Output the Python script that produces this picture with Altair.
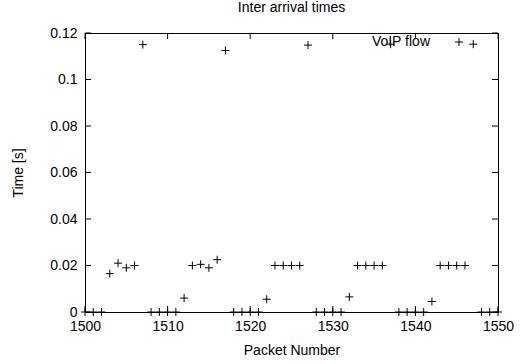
import altair as alt
import pandas as pd

# ---- data ----
packet_number = list(range(1500, 1551))
inter_arrival = [
    0.0, 0.0, 0.0, 0.0165, 0.021, 0.019, 0.020, 0.1150, 0.0, 0.0,      # 1500-1509
    0.0, 0.0, 0.006, 0.020, 0.0205, 0.019, 0.0225, 0.1125, 0.0, 0.0,   # 1510-1519
    0.0, 0.0, 0.0055, 0.020, 0.020, 0.020, 0.020, 0.1148, 0.0, 0.0,    # 1520-1529
    0.0, 0.0, 0.0065, 0.020, 0.020, 0.020, 0.020, 0.1152, 0.0, 0.0,    # 1530-1539
    0.0, 0.0, 0.0045, 0.020, 0.020, 0.020, 0.020, 0.1152, 0.0, 0.0,    # 1540-1549
    0.0,                                                               # 1550
]
series_name = ["VoIP flow"]
x_ticks = [1500, 1510, 1520, 1530, 1540, 1550]
y_ticks = [0, 0.02, 0.04, 0.06, 0.08, 0.1, 0.12]

W, H = 413, 279
FONT = "Liberation Sans"
PLUS = "M-1,0L1,0M0,-1L0,1"

df = pd.DataFrame({"packet": packet_number, "time": inter_arrival})
xt = pd.DataFrame({"packet": x_ticks})
yt = pd.DataFrame({"time": y_ticks})
lg = pd.DataFrame({"label": series_name})

xscale = alt.Scale(domain=[1500, 1550], nice=False, zero=False)
yscale = alt.Scale(domain=[0, 0.12], nice=False, zero=False)
xaxis = alt.Axis(values=x_ticks, format="d", title="Packet Number",
                 labelPadding=7, labelFlush=False, labelOverlap=False,
                 titleY=42, titleBaseline="alphabetic")
yaxis = alt.Axis(values=y_ticks, labelExpr="format(datum.value, '~g')",
                 title="Time [s]", labelPadding=8, labelFlush=False,
                 labelOverlap=False, titleX=-63, titleBaseline="alphabetic")

points = alt.Chart(df).mark_point(
    shape=PLUS, filled=False, stroke="black", strokeWidth=1, size=64, opacity=1
).encode(
    x=alt.X("packet:Q", scale=xscale, axis=xaxis),
    y=alt.Y("time:Q", scale=yscale, axis=yaxis),
)

xt_bottom = alt.Chart(xt).mark_rule(color="black", strokeWidth=1).encode(
    x=alt.X("packet:Q", scale=xscale, axis=xaxis), y=alt.value(H), y2=alt.value(H - 6))
xt_top = alt.Chart(xt).mark_rule(color="black", strokeWidth=1).encode(
    x=alt.X("packet:Q", scale=xscale, axis=xaxis), y=alt.value(0), y2=alt.value(6))
yt_left = alt.Chart(yt).mark_rule(color="black", strokeWidth=1).encode(
    y=alt.Y("time:Q", scale=yscale, axis=yaxis), x=alt.value(0), x2=alt.value(6))
yt_right = alt.Chart(yt).mark_rule(color="black", strokeWidth=1).encode(
    y=alt.Y("time:Q", scale=yscale, axis=yaxis), x=alt.value(W), x2=alt.value(W - 6))

legend_text = alt.Chart(lg).mark_text(
    align="right", baseline="middle", font=FONT, fontSize=14, color="black"
).encode(x=alt.value(345), y=alt.value(9), text="label:N")
legend_sym = alt.Chart(lg).mark_point(
    shape=PLUS, filled=False, stroke="black", strokeWidth=1, size=64, opacity=1
).encode(x=alt.value(374), y=alt.value(9))

chart = alt.layer(
    points, xt_bottom, xt_top, yt_left, yt_right, legend_text, legend_sym
).properties(
    width=W, height=H,
    background="white",
    title=alt.TitleParams("Inter arrival times", anchor="middle", frame="group",
                          offset=11, font=FONT,
                          fontSize=14, fontWeight="normal", color="black"),
    autosize=alt.AutoSizeParams(type="none"),
    padding={"left": 85, "top": 33, "right": 25, "bottom": 52},
).configure_view(
    stroke="black", strokeWidth=1
).configure_axis(
    grid=False, domain=False, ticks=False, tickSize=0,
    labelFont=FONT, labelFontSize=14, labelColor="black",
    titleFont=FONT, titleFontSize=14, titleFontWeight="normal", titleColor="black",
)

chart.save("out.html", embed_options={"renderer": "svg", "actions": False})
